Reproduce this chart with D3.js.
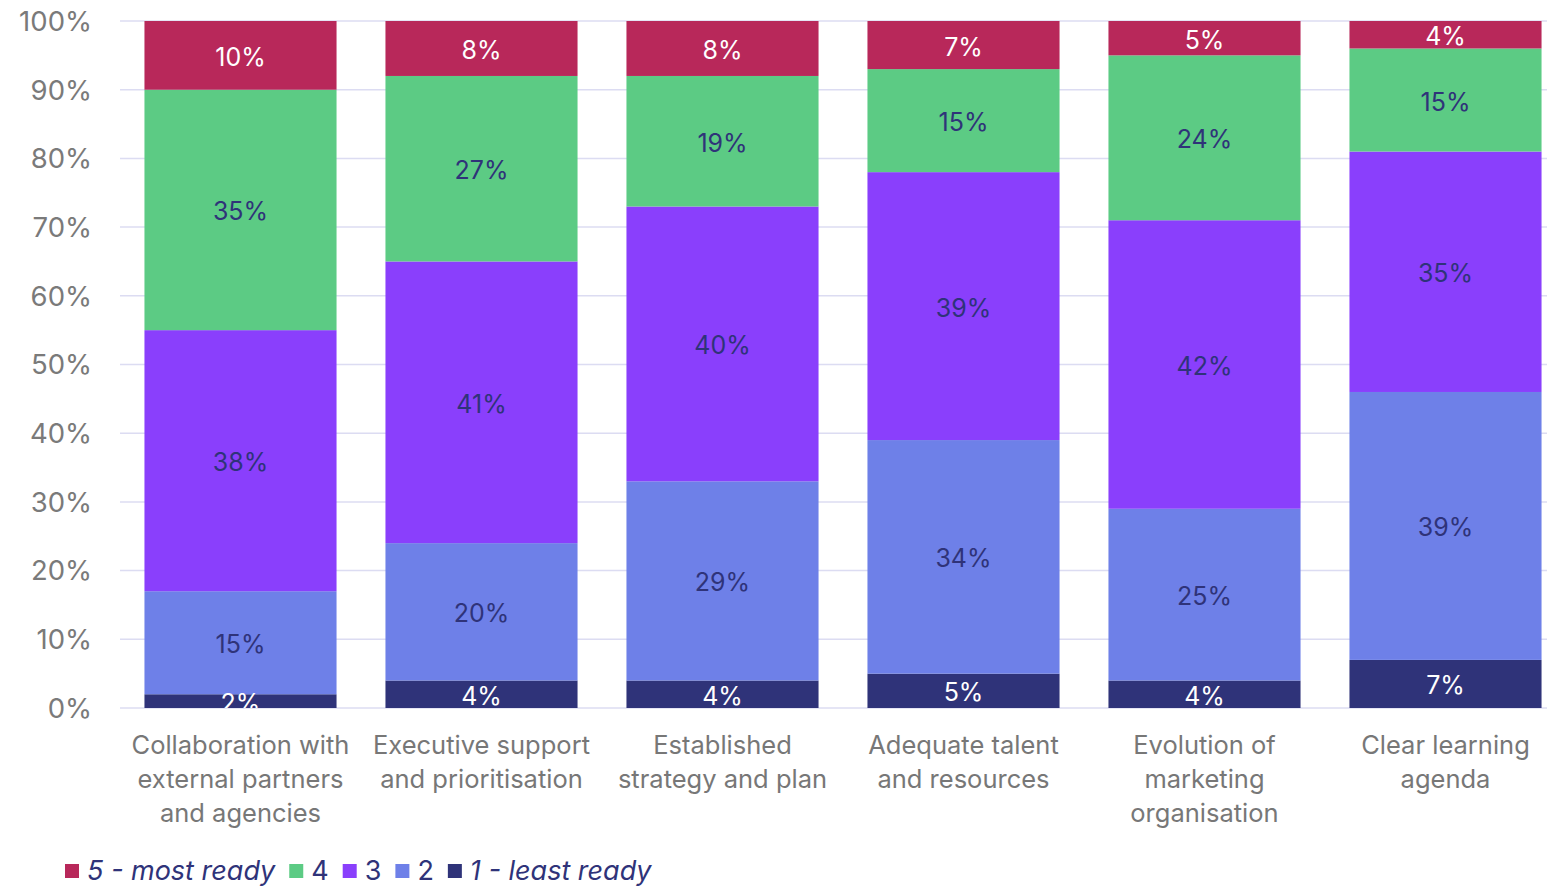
<!DOCTYPE html>
<html>
<head>
<meta charset="utf-8">
<script src="https://cdn.jsdelivr.net/npm/d3@7"></script>
<style>
  html, body { margin: 0; padding: 0; background: #fff; }
  svg { display: block; font-family: Inter, "Open Sans", sans-serif; }
</style>
</head>
<body>
<svg id="chart" width="1547" height="887"></svg>
<script>
// Readiness categories (x axis)
const categories = [
  ["Collaboration with", "external partners", "and agencies"],
  ["Executive support", "and prioritisation"],
  ["Established", "strategy and plan"],
  ["Adequate talent", "and resources"],
  ["Evolution of", "marketing", "organisation"],
  ["Clear learning", "agenda"]
];

// Share of respondents (%) per readiness level, bottom to top
const level1 = [2, 4, 4, 5, 4, 7];
const level2 = [15, 20, 29, 34, 25, 39];
const level3 = [38, 41, 40, 39, 42, 35];
const level4 = [35, 27, 19, 15, 24, 15];
const level5 = [10, 8, 8, 7, 5, 4];

const seriesNames = ["1 - least ready", "2", "3", "4", "5 - most ready"];
const seriesColors = ["#2f3379", "#6e80e8", "#8a3ffc", "#5ccb84", "#b8285a"];
const labelColors = ["#ffffff", "#2f3379", "#2f3379", "#2f3379", "#ffffff"];
const yTicks = [0, 10, 20, 30, 40, 50, 60, 70, 80, 90, 100];
const legendOrder = [4, 3, 2, 1, 0];

const rows = categories.map((c, i) => ({
  key: i,
  s0: level1[i], s1: level2[i], s2: level3[i], s3: level4[i], s4: level5[i]
}));

const svg = d3.select("#chart");
const plotLeft = 120, plotTop = 21, plotBottom = 708, plotRight = 1547;

const x = d3.scaleBand()
  .domain(d3.range(categories.length))
  .range([plotLeft, plotLeft + 241 * categories.length])
  .paddingInner(0.203)
  .paddingOuter(0.1015);

const y = d3.scaleLinear().domain([0, 100]).range([plotBottom, plotTop]);

// Gridlines
svg.append("g")
  .selectAll("line")
  .data(yTicks)
  .join("line")
  .attr("x1", plotLeft).attr("x2", plotRight)
  .attr("y1", d => y(d)).attr("y2", d => y(d))
  .attr("stroke", "#dcdcf2").attr("stroke-width", 1.5);

// Y axis labels
const yAxis = svg.append("g")
  .attr("transform", `translate(${plotLeft - 28},0)`)
  .call(d3.axisLeft(y).tickValues(yTicks).tickFormat(d => d + "%").tickSize(0).tickPadding(0));
yAxis.select(".domain").remove();
yAxis.selectAll("text")
  .attr("fill", "#7a7a7a")
  .attr("dy", "0.34em")
  .style("font-size", "27.5px")
  .style("font-family", "Inter, sans-serif");

const stack = d3.stack().keys(["s0", "s1", "s2", "s3", "s4"]);
const stacked = stack(rows);

svg.append("defs").append("clipPath").attr("id", "plot")
  .append("rect").attr("x", plotLeft).attr("y", plotTop)
  .attr("width", plotRight - plotLeft).attr("height", plotBottom - plotTop);

const layers = svg.append("g")
  .selectAll("g")
  .data(stacked)
  .join("g")
  .attr("fill", (d, i) => seriesColors[i]);

layers.selectAll("rect")
  .data(d => d)
  .join("rect")
  .attr("x", d => x(d.data.key))
  .attr("width", x.bandwidth())
  .attr("y", d => y(d[1]))
  .attr("height", d => y(d[0]) - y(d[1]));

// Value labels centred in each segment
const labels = svg.append("g").attr("clip-path", "url(#plot)");
stacked.forEach((layer, li) => {
  labels.append("g").selectAll("text")
    .data(layer)
    .join("text")
    .attr("x", d => x(d.data.key) + x.bandwidth() / 2)
    .attr("y", d => (y(d[0]) + y(d[1])) / 2)
    .attr("dy", "0.42em")
    .attr("text-anchor", "middle")
    .attr("fill", labelColors[li])
    .style("font-size", "25px")
    .text(d => (d[1] - d[0]) + "%");
});

// Category labels
const xl = svg.append("g");
categories.forEach((lines, i) => {
  const cx = x(i) + x.bandwidth() / 2;
  const t = xl.append("text")
    .attr("text-anchor", "middle")
    .attr("fill", "#777777")
    .style("font-size", "25.5px");
  lines.forEach((ln, j) => {
    t.append("tspan")
      .attr("x", cx)
      .attr("y", 745 + j * 34)
      .attr("dy", "0.36em")
      .text(ln);
  });
});

// Legend
const legend = svg.append("g").attr("transform", "translate(65,870)");
let lx = 0;
legendOrder.forEach(si => {
  const g = legend.append("g").attr("transform", `translate(${lx},0)`);
  g.append("rect").attr("x", 0).attr("y", -6).attr("width", 14).attr("height", 14)
    .attr("fill", seriesColors[si]);
  const txt = g.append("text")
    .attr("x", 22).attr("y", 0).attr("dy", "0.36em")
    .attr("fill", "#2f3379")
    .style("font-size", "27px")
    .style("font-style", si === 0 || si === 4 ? "italic" : "normal")
    .text(seriesNames[si]);
  lx += 22 + txt.node().getComputedTextLength() + 14;
});
</script>
</body>
</html>
